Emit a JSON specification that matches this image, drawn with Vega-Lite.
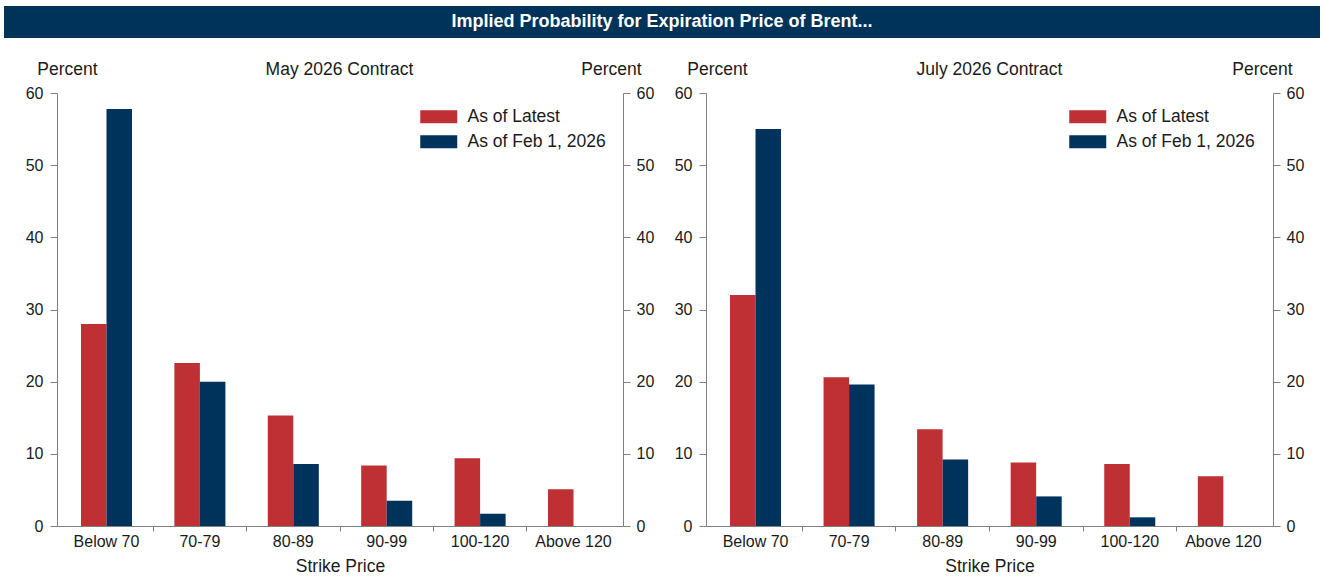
{
  "$schema": "https://vega.github.io/schema/vega-lite/v6.json",
  "background": "white",
  "padding": {"left": 4, "top": 6, "right": 4, "bottom": 0},
  "datasets": {
    "may": [
      {"strike": "Below 70", "series": "As of Latest", "value": 28.0},
      {"strike": "Below 70", "series": "As of Feb 1, 2026", "value": 57.8},
      {"strike": "70-79", "series": "As of Latest", "value": 22.6},
      {"strike": "70-79", "series": "As of Feb 1, 2026", "value": 20.0},
      {"strike": "80-89", "series": "As of Latest", "value": 15.3},
      {"strike": "80-89", "series": "As of Feb 1, 2026", "value": 8.6},
      {"strike": "90-99", "series": "As of Latest", "value": 8.4},
      {"strike": "90-99", "series": "As of Feb 1, 2026", "value": 3.5},
      {"strike": "100-120", "series": "As of Latest", "value": 9.4},
      {"strike": "100-120", "series": "As of Feb 1, 2026", "value": 1.7},
      {"strike": "Above 120", "series": "As of Latest", "value": 5.1}
    ],
    "july": [
      {"strike": "Below 70", "series": "As of Latest", "value": 32.0},
      {"strike": "Below 70", "series": "As of Feb 1, 2026", "value": 55.0},
      {"strike": "70-79", "series": "As of Latest", "value": 20.6},
      {"strike": "70-79", "series": "As of Feb 1, 2026", "value": 19.6},
      {"strike": "80-89", "series": "As of Latest", "value": 13.4},
      {"strike": "80-89", "series": "As of Feb 1, 2026", "value": 9.2},
      {"strike": "90-99", "series": "As of Latest", "value": 8.8},
      {"strike": "90-99", "series": "As of Feb 1, 2026", "value": 4.1},
      {"strike": "100-120", "series": "As of Latest", "value": 8.6},
      {"strike": "100-120", "series": "As of Feb 1, 2026", "value": 1.2},
      {"strike": "Above 120", "series": "As of Latest", "value": 6.9}
    ],
    "banner": [{"t": "Implied Probability for Expiration Price of Brent..."}]
  },
  "config": {
    "font": "Liberation Sans",
    "view": {"stroke": null},
    "axis": {
      "grid": false,
      "domainColor": "#808080",
      "tickColor": "#808080",
      "labelFont": "Liberation Sans",
      "labelFontSize": 16,
      "labelColor": "#1a1a1a",
      "titleFont": "Liberation Sans",
      "titleFontSize": 17.5,
      "titleFontWeight": "normal",
      "titleColor": "#1a1a1a",
      "tickSize": 7
    },
    "legend": {
      "labelFont": "Liberation Sans",
      "labelFontSize": 17.5,
      "labelColor": "#1a1a1a"
    }
  },
  "spacing": 22,
  "vconcat": [
    {
      "width": 1316,
      "height": 32,
      "view": {"fill": "#003359", "stroke": null},
      "data": {"name": "banner"},
      "mark": {"type": "text", "color": "white", "fontWeight": "bold", "fontSize": 18, "font": "Liberation Sans"},
      "encoding": {"text": {"field": "t", "type": "nominal"}}
    },
    {
      "spacing": 20,
      "resolve": {"scale": {"color": "independent"}, "legend": {"color": "independent"}},
      "hconcat": [
        {
          "width": 619,
          "height": 433,
          "title": {"text": "May 2026 Contract", "fontSize": 17.5, "fontWeight": "normal", "color": "#1a1a1a", "frame": "group", "baseline": "middle", "offset": -27, "dx": 26},
          "data": {"name": "may"},
          "layer": [
            {
              "mark": {"type": "bar"},
              "encoding": {
                "x": {"field": "strike", "type": "nominal", "sort": ["Below 70", "70-79", "80-89", "90-99", "100-120", "Above 120"],
                      "scale": {"paddingInner": 0, "paddingOuter": 0.03, "range": [53, 619]},
                      "axis": {"title": "Strike Price", "labelAngle": 0, "ticks": false, "labelPadding": 7, "titlePadding": 8}},
                "xOffset": {"field": "series", "type": "nominal", "sort": ["As of Latest", "As of Feb 1, 2026"],
                            "scale": {"paddingInner": 0, "paddingOuter": 0.83}},
                "y": {"field": "value", "type": "quantitative", "scale": {"domain": [0, 60]},
                      "axis": {"offset": -53, "title": "Percent", "titleAngle": 0, "titleX": 10, "titleY": -24, "titleAlign": "center", "titleBaseline": "middle",
                               "values": [0, 10, 20, 30, 40, 50, 60], "labelPadding": 7}},
                "color": {"field": "series", "type": "nominal",
                          "scale": {"domain": ["As of Latest", "As of Feb 1, 2026"], "range": ["#BF3034", "#00335C"]},
                          "legend": {"title": null, "orient": "none", "legendX": 426, "legendY": 15, "padding": 0,
                                     "symbolType": "M-2.846,-1L2.846,-1L2.846,1L-2.846,1Z", "symbolSize": 169,
                                     "symbolStrokeWidth": 0, "symbolOpacity": 1, "labelOffset": 20, "rowPadding": 6}}
              }
            },
            {
              "mark": {"type": "bar", "opacity": 0},
              "encoding": {
                "x": {"field": "strike", "type": "nominal", "sort": ["Below 70", "70-79", "80-89", "90-99", "100-120", "Above 120"],
                      "axis": {"orient": "bottom", "bandPosition": 0, "values": ["70-79", "80-89", "90-99", "100-120", "Above 120"], "labels": false, "domain": false, "ticks": true, "tickSize": 5, "title": null}},
                "y": {"field": "value", "type": "quantitative", "stack": null, "scale": {"domain": [0, 60]},
                      "axis": {"orient": "right", "title": "Percent", "titleAngle": 0, "titleX": -12, "titleY": -24, "titleAlign": "center", "titleBaseline": "middle",
                               "values": [0, 10, 20, 30, 40, 50, 60], "labelPadding": 6}}
              }
            }
          ],
          "resolve": {"scale": {"y": "independent"}, "axis": {"x": "independent", "y": "independent"}}
        },
        {
          "width": 567,
          "height": 433,
          "title": {"text": "July 2026 Contract", "fontSize": 17.5, "fontWeight": "normal", "color": "#1a1a1a", "frame": "group", "baseline": "middle", "offset": -27},
          "data": {"name": "july"},
          "layer": [
            {
              "mark": {"type": "bar"},
              "encoding": {
                "x": {"field": "strike", "type": "nominal", "sort": ["Below 70", "70-79", "80-89", "90-99", "100-120", "Above 120"],
                      "scale": {"paddingInner": 0, "paddingOuter": 0.03},
                      "axis": {"title": "Strike Price", "labelAngle": 0, "ticks": false, "labelPadding": 7, "titlePadding": 8}},
                "xOffset": {"field": "series", "type": "nominal", "sort": ["As of Latest", "As of Feb 1, 2026"],
                            "scale": {"paddingInner": 0, "paddingOuter": 0.83}},
                "y": {"field": "value", "type": "quantitative", "scale": {"domain": [0, 60]},
                      "axis": {"title": "Percent", "titleAngle": 0, "titleX": 11, "titleY": -24, "titleAlign": "center", "titleBaseline": "middle",
                               "values": [0, 10, 20, 30, 40, 50, 60], "labelPadding": 7}},
                "color": {"field": "series", "type": "nominal",
                          "scale": {"domain": ["As of Latest", "As of Feb 1, 2026"], "range": ["#BF3034", "#00335C"]},
                          "legend": {"title": null, "orient": "none", "legendX": 373, "legendY": 15, "padding": 0,
                                     "symbolType": "M-2.846,-1L2.846,-1L2.846,1L-2.846,1Z", "symbolSize": 169,
                                     "symbolStrokeWidth": 0, "symbolOpacity": 1, "labelOffset": 20, "rowPadding": 6}}
              }
            },
            {
              "mark": {"type": "bar", "opacity": 0},
              "encoding": {
                "x": {"field": "strike", "type": "nominal", "sort": ["Below 70", "70-79", "80-89", "90-99", "100-120", "Above 120"],
                      "axis": {"orient": "bottom", "bandPosition": 0, "values": ["70-79", "80-89", "90-99", "100-120", "Above 120"], "labels": false, "domain": false, "ticks": true, "tickSize": 5, "title": null}},
                "y": {"field": "value", "type": "quantitative", "stack": null, "scale": {"domain": [0, 60]},
                      "axis": {"orient": "right", "title": "Percent", "titleAngle": 0, "titleX": -11, "titleY": -24, "titleAlign": "center", "titleBaseline": "middle",
                               "values": [0, 10, 20, 30, 40, 50, 60], "labelPadding": 6}}
              }
            }
          ],
          "resolve": {"scale": {"y": "independent"}, "axis": {"x": "independent", "y": "independent"}}
        }
      ]
    }
  ]
}
